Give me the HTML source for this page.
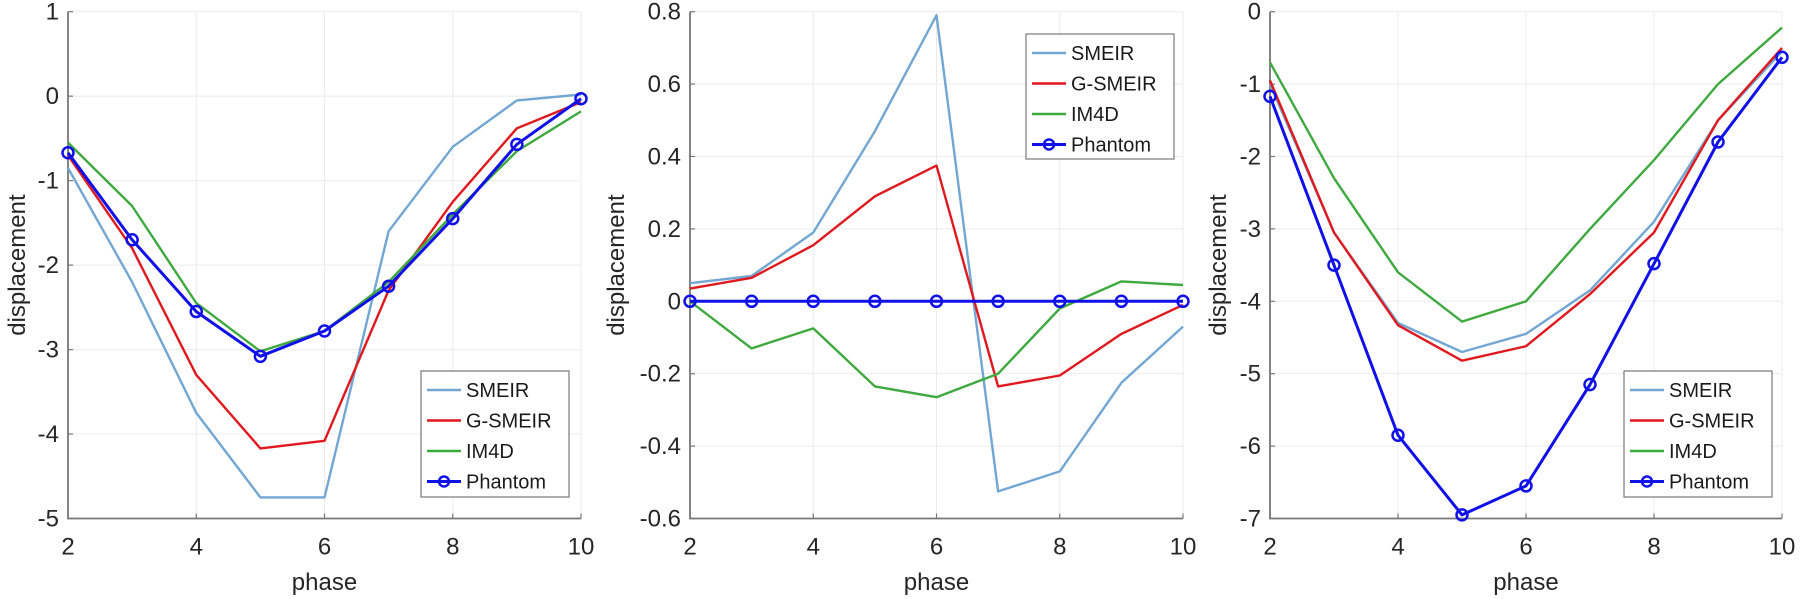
<!DOCTYPE html>
<html><head><meta charset="utf-8"><style>
html,body{margin:0;padding:0;background:#fff;}
svg{display:block;font-family:"Liberation Sans",Arial,sans-serif;}
</style></head><body>
<svg id="chart" width="1800" height="599" viewBox="0 0 1800 599"></svg>
<script>
const phases = [2,3,4,5,6,7,8,9,10];
const seriesNames = ["SMEIR","G-SMEIR","IM4D","Phantom"];
const p1Smeir = [-0.85,-2.2,-3.75,-4.75,-4.75,-1.6,-0.6,-0.05,0.02];
const p1Gsmeir = [-0.7,-1.8,-3.3,-4.17,-4.08,-2.3,-1.25,-0.38,-0.07];
const p1Im4d = [-0.55,-1.3,-2.45,-3.02,-2.78,-2.2,-1.4,-0.65,-0.18];
const p1Phantom = [-0.67,-1.7,-2.55,-3.08,-2.78,-2.25,-1.45,-0.57,-0.03];
const p2Smeir = [0.05,0.07,0.19,0.47,0.79,-0.525,-0.47,-0.225,-0.07];
const p2Gsmeir = [0.035,0.065,0.155,0.29,0.375,-0.235,-0.205,-0.09,-0.01];
const p2Im4d = [0,-0.13,-0.075,-0.235,-0.265,-0.2,-0.02,0.055,0.045];
const p2Phantom = [0,0,0,0,0,0,0,0,0];
const p3Smeir = [-1.0,-3.05,-4.3,-4.7,-4.45,-3.85,-2.9,-1.5,-0.55];
const p3Gsmeir = [-0.95,-3.05,-4.33,-4.82,-4.62,-3.9,-3.05,-1.5,-0.5];
const p3Im4d = [-0.7,-2.3,-3.6,-4.28,-4.0,-3.0,-2.05,-1.0,-0.22];
const p3Phantom = [-1.17,-3.5,-5.85,-6.95,-6.55,-5.15,-3.48,-1.8,-0.63];
const xTicks = [2,4,6,8,10];
const p1YTicks = [1,0,-1,-2,-3,-4,-5];
const p2YTicks = [0.8,0.6,0.4,0.2,0,-0.2,-0.4,-0.6];
const p3YTicks = [0,-1,-2,-3,-4,-5,-6,-7];

const NS="http://www.w3.org/2000/svg";
const svg=document.getElementById('chart');
const colors=["#72a6d3","#e0191e","#3ea93e","#1010e8"];
function mk(tag,attrs,parent){const e=document.createElementNS(NS,tag);for(const k in attrs)e.setAttribute(k,attrs[k]);(parent||svg).appendChild(e);return e;}

const panels=[
 {id:'left',x0:68,x1:581,ymax:1,ymin:-5,yt:p1YTicks,data:[p1Smeir,p1Gsmeir,p1Im4d,p1Phantom],leg:[421,371,148,126],ylab:17},
 {id:'middle',x0:690,x1:1183,ymax:0.8,ymin:-0.6,yt:p2YTicks,data:[p2Smeir,p2Gsmeir,p2Im4d,p2Phantom],leg:[1026,34,148,125],ylab:616},
 {id:'right',x0:1270,x1:1782,ymax:0,ymin:-7,yt:p3YTicks,data:[p3Smeir,p3Gsmeir,p3Im4d,p3Phantom],leg:[1624,371,148,126],ylab:1218}
];
const yTop=11.7,yBot=518.5;
panels.forEach(p=>{
  const g=mk('g',{});
  
  
  const sx=v=>p.x0+(v-2)/8*(p.x1-p.x0);
  const sy=v=>yTop+(p.ymax-v)/(p.ymax-p.ymin)*(yBot-yTop);
  xTicks.forEach(t=>{const l=mk('line',{x1:sx(t),x2:sx(t),y1:yTop,y2:yBot,stroke:'#ebebeb','stroke-width':1},g);
    });
  p.yt.forEach(t=>{const l=mk('line',{x1:p.x0,x2:p.x1,y1:sy(t),y2:sy(t),stroke:'#ebebeb','stroke-width':1},g);
    });
  const ax=mk('path',{d:`M${p.x0},${yTop}V${yBot}H${p.x1}`,fill:'none',stroke:'#777','stroke-width':1.8},g);
  
  xTicks.forEach(t=>{
    mk('line',{x1:sx(t),x2:sx(t),y1:yBot,y2:yBot-5,stroke:'#777','stroke-width':1.2},g);
    const tx=mk('text',{x:sx(t),y:yBot+36,'text-anchor':'middle','font-size':24,fill:'#262626'},g);
    tx.textContent=t;
  });
  p.yt.forEach(t=>{
    mk('line',{x1:p.x0,x2:p.x0+5,y1:sy(t),y2:sy(t),stroke:'#777','stroke-width':1.2},g);
    const tx=mk('text',{x:p.x0-9,y:sy(t)+8,'text-anchor':'end','font-size':24,fill:'#262626'},g);
    tx.textContent=t;
  });
  const xl=mk('text',{x:(p.x0+p.x1)/2,y:590,'text-anchor':'middle','font-size':24,fill:'#262626'},g);
  xl.textContent='phase';
  const yl=mk('text',{x:0,y:0,'text-anchor':'middle','font-size':24,fill:'#262626',transform:`translate(${p.ylab+8},${(yTop+yBot)/2}) rotate(-90)`},g);
  yl.textContent='displacement';
  p.data.forEach((vals,i)=>{
    const d=vals.map((v,j)=>(j?'L':'M')+sx(phases[j]).toFixed(1)+','+sy(v).toFixed(1)).join('');
    const path=mk('path',{d:d,fill:'none',stroke:colors[i],'stroke-width':i===3?3:2.4,'stroke-linejoin':'round'},g);
    
    
    if(i===3){vals.forEach((v,j)=>{
      const c=mk('circle',{cx:sx(phases[j]),cy:sy(v),r:5.5,fill:'none',stroke:colors[3],'stroke-width':2.5},g);
      
    });}
  });
  const [lx,ly,lw,lh]=p.leg;
  const lg=mk('g',{},g);
  
  mk('rect',{x:lx,y:ly,width:lw,height:lh,fill:'#fff',stroke:'#777','stroke-width':1.2},lg);
  seriesNames.forEach((n,i)=>{
    const yy=ly+19+i*30.5;
    mk('line',{x1:lx+6,x2:lx+40,y1:yy,y2:yy,stroke:colors[i],'stroke-width':i===3?3:2.4},lg);
    if(i===3)mk('circle',{cx:lx+23,cy:yy,r:5,fill:'none',stroke:colors[3],'stroke-width':2.5},lg);
    const t=mk('text',{x:lx+45,y:yy+7,'font-size':20,fill:'#1a1a1a'},lg);
    t.textContent=n;
  });
});
</script>
</body></html>
